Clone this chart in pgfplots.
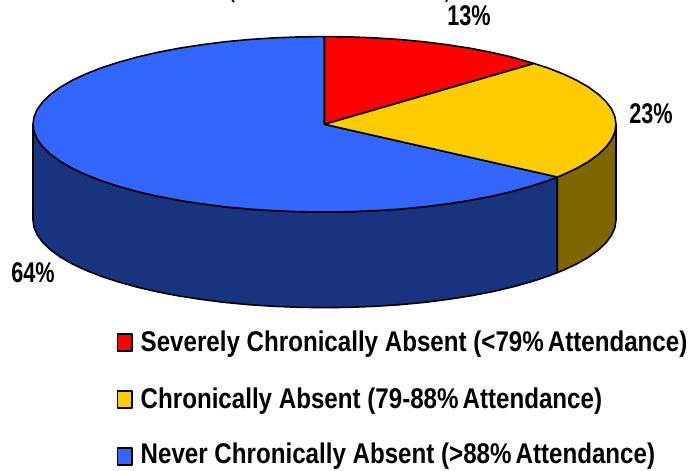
\documentclass[border=0pt]{standalone}
\usepackage{fontspec}
\setmainfont{Liberation Sans}
\usepackage{pgfplots}
\pgfplotsset{compat=1.18}
\definecolor{redtop}{HTML}{FF0000}
\definecolor{yeltop}{HTML}{FFCC00}
\definecolor{blutop}{HTML}{3366FF}
\definecolor{yelside}{HTML}{806600}
\definecolor{bluside}{HTML}{1A337F}
\newcommand{\lbl}[2]{\scalebox{#1}[1]{\fontsize{28.5}{28.5}\selectfont\bfseries\strut #2}}
\begin{document}
\begin{tikzpicture}
\useasboundingbox (0,0) rectangle (688pt,471pt);
\begin{axis}[
    at={(0,0)}, anchor=south west,
    scale only axis,
    width=688pt, height=471pt,
    xmin=0, xmax=688,
    ymin=0, ymax=471,
    y dir=reverse,
    hide axis,
    every axis plot/.append style={line width=1.6pt, line join=round},
  ]
% side walls, pixel positions from the picture
\addplot[draw=black, fill=bluside] coordinates {
  (33.0,124.3) (34.1,131.9) (37.4,139.5) (42.9,147.0) (50.6,154.3) (60.3,161.4) (72.1,168.2)
  (85.7,174.6) (101.2,180.7) (118.4,186.3) (137.1,191.5) (157.3,196.2) (178.7,200.3)
  (201.3,203.8) (224.8,206.8) (249.1,209.1) (273.9,210.7) (299.1,211.7) (324.5,212.05)
  (349.9,211.7) (375.1,210.7) (399.9,209.1) (424.2,206.8) (447.7,203.8) (470.3,200.3)
  (491.7,196.2) (511.9,191.5) (530.6,186.3) (547.8,180.7) (557.3,177)
  (557.3,272.6) (547.8,276.3) (530.6,281.9) (511.9,287.1) (491.7,291.8) (470.3,295.9)
  (447.7,299.4) (424.2,302.4) (399.9,304.7) (375.1,306.3) (349.9,307.3) (324.5,307.65)
  (299.1,307.3) (273.9,306.3) (249.1,304.7) (224.8,302.4) (201.3,299.4) (178.7,295.9)
  (157.3,291.8) (137.1,287.1) (118.4,281.9) (101.2,276.3) (85.7,270.2) (72.1,263.8)
  (60.3,257.0) (50.6,249.9) (42.9,242.6) (37.4,235.1) (34.1,227.5) (33.0,219.9)
} -- cycle;
\addplot[draw=black, fill=yelside] coordinates {
  (616.0,124.3) (614.9,131.9) (611.6,139.5) (606.1,147.0) (598.4,154.3) (588.7,161.4)
  (576.9,168.2) (563.3,174.6) (557.3,177)
  (557.3,272.6) (563.3,270.2) (576.9,263.8) (588.7,257.0) (598.4,249.9) (606.1,242.6)
  (611.6,235.1) (614.9,227.5) (616.0,219.9)
} -- cycle;
% top of the pie
\addplot[draw=black, fill=blutop] coordinates {
  (324.5,124.3) (557.3,177) (547.8,180.7) (530.6,186.3) (511.9,191.5) (491.7,196.2)
  (470.3,200.3) (447.7,203.8) (424.2,206.8) (399.9,209.1) (375.1,210.7) (349.9,211.7)
  (324.5,212.05) (299.1,211.7) (273.9,210.7) (249.1,209.1) (224.8,206.8) (201.3,203.8)
  (178.7,200.3) (157.3,196.2) (137.1,191.5) (118.4,186.3) (101.2,180.7) (85.7,174.6)
  (72.1,168.2) (60.3,161.4) (50.6,154.3) (42.9,147.0) (37.4,139.5) (34.1,131.9) (33.0,124.3)
  (34.1,116.7) (37.4,109.1) (42.9,101.6) (50.6,94.3) (60.3,87.2) (72.1,80.4) (85.7,74.0)
  (101.2,67.9) (118.4,62.3) (137.1,57.1) (157.3,52.4) (178.7,48.3) (201.3,44.8) (224.8,41.8)
  (249.1,39.5) (273.9,37.9) (299.1,36.9) (324.5,36.55)
} -- cycle;
\addplot[draw=black, fill=redtop] coordinates {
  (324.5,124.3) (324.5,36.55) (349.9,36.9) (375.1,37.9) (399.9,39.5) (424.2,41.8) (447.7,44.8)
  (470.3,48.3) (491.7,52.4) (511.9,57.1) (534,63.5)
} -- cycle;
\addplot[draw=black, fill=yeltop] coordinates {
  (324.5,124.3) (534,63.5) (547.8,67.9) (563.3,74.0) (576.9,80.4) (588.7,87.2) (598.4,94.3)
  (606.1,101.6) (611.6,109.1) (614.9,116.7) (616.0,124.3) (614.9,131.9) (611.6,139.5)
  (606.1,147.0) (598.4,154.3) (588.7,161.4) (576.9,168.2) (563.3,174.6) (557.3,177)
} -- cycle;
% legend boxes
\addplot[draw=black, fill=redtop] coordinates {(117.5,334) (132,334) (132,351) (117.5,351)} -- cycle;
\addplot[draw=black, fill=yeltop] coordinates {(117.5,391) (132,391) (132,408) (117.5,408)} -- cycle;
\addplot[draw=black, fill=blutop] coordinates {(117.5,448) (132,448) (132,465) (117.5,465)} -- cycle;
% bottom of the title, cut off by the picture's edge
\addplot[draw=black] coordinates {(232,0) (234,2)};
\addplot[draw=black] coordinates {(447,0) (446,2)};
\node at (axis cs:469,20) {\lbl{0.76}{13\%}};
\node at (axis cs:651,118) {\lbl{0.76}{23\%}};
\node at (axis cs:33,277) {\lbl{0.76}{64\%}};
\node[anchor=west, inner sep=0pt] at (axis cs:140.5,345) {\lbl{0.847}{Severely Chronically Absent (<79\%\,Attendance)}};
\node[anchor=west, inner sep=0pt] at (axis cs:140.5,402) {\lbl{0.847}{Chronically Absent (79-88\%\,Attendance)}};
\node[anchor=west, inner sep=0pt] at (axis cs:140.5,457) {\lbl{0.847}{Never Chronically Absent (>88\%\,Attendance)}};
\end{axis}
\end{tikzpicture}
\end{document}
